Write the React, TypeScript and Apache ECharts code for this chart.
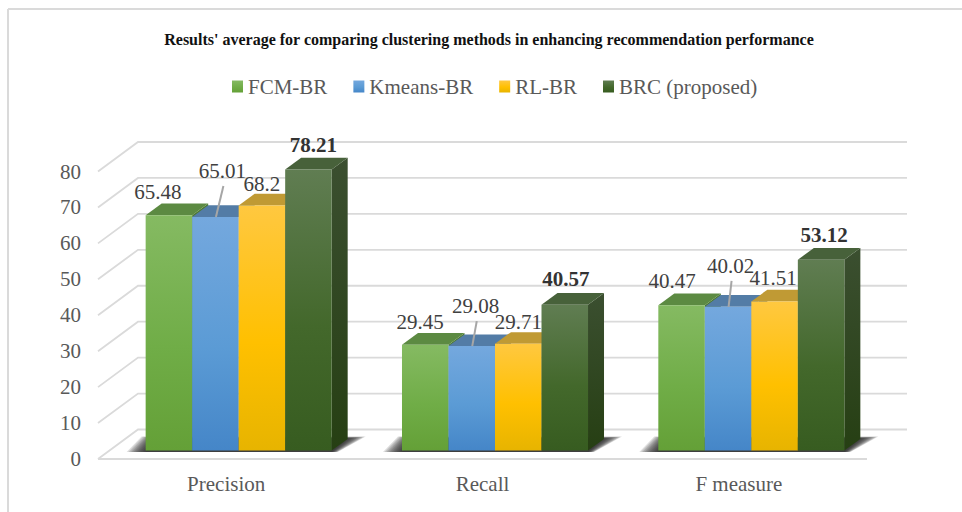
import React, { useEffect, useRef } from "react";
import * as echarts from "echarts";

const categories = ["Precision", "Recall", "F measure"];
const seriesNames = ["FCM-BR", "Kmeans-BR", "RL-BR", "BRC (proposed)"];
const fcmBr = [65.48, 29.45, 40.47];
const kmeansBr = [65.01, 29.08, 40.02];
const rlBr = [68.2, 29.71, 41.51];
const brc = [78.21, 40.57, 53.12];
const yTicks = [0, 10, 20, 30, 40, 50, 60, 70, 80];

const allValues = [fcmBr, kmeansBr, rlBr, brc];

const FONT = '"Liberation Serif", "Times New Roman", serif';

// [front top, front mid, front bottom, top face, side top, side bottom]
const palettes = [
  ["#85BA62", "#70AD47", "#64A037", "#5C8A42", "#4E7A33", "#3F6A25"],
  ["#74A8DE", "#5B9BD5", "#4586C8", "#537CA6", "#44709E", "#38608C"],
  ["#FFC840", "#FFC000", "#E7B400", "#C09A34", "#A08020", "#8A6E10"],
  ["#607D52", "#43682B", "#375C20", "#47613A", "#3B4F30", "#263F13"],
];

// Label placement relative to each bar's top front edge: [series][category] = [dx, dy]
const labelOffsets = [
  [[-11, -23], [-5, -23], [-9.5, -24]],
  [[7, -46], [4, -40], [2.5, -41]],
  [[0, -22], [0, -22], [-1.5, -23]],
  [[5, -25], [1, -26], [3, -25]],
];

const BAR_RATIO = 46.5 / 256.3;
const DEPTH_X = 40;
const DEPTH_Y = 29.5;
const BAR_DX = 12.5;
const BAR_DY = 8.4;
const SIDE_X = 16;
const SIDE_Y = 11.7;
const SHADOW_STEPS = [0, 1, 2, 3, 4, 5, 6, 7, 8, 9, 10, 11];

const grad = (stops: string[]) =>
  new echarts.graphic.LinearGradient(
    0,
    0,
    0,
    1,
    stops.map((c, i) => ({ offset: stops.length === 3 ? [0, 0.56, 1][i] : i / (stops.length - 1), color: c }))
  );

function barRect(api: any, seriesIdx: number, cat: number, value: number) {
  const top = api.coord([cat, value]);
  const base = api.coord([cat, 0]);
  const w = api.size([1, 0])[0] * BAR_RATIO;
  const x = top[0] + BAR_DX + (seriesIdx - 2) * w;
  return { x, w, top: top[1] - BAR_DY, base: base[1] - BAR_DY };
}

function makeBarSeries(seriesIdx: number) {
  const p = palettes[seriesIdx];
  return {
    type: "custom",
    name: seriesNames[seriesIdx],
    coordinateSystem: "cartesian2d",
    z: 5,
    silent: true,
    itemStyle: { color: grad([p[0], p[1], p[2]]) },
    encode: { x: 0, y: 1 },
    data: allValues[seriesIdx].map((v, i) => [i, v]),
    renderItem: (_: any, api: any) => {
      const b = barRect(api, seriesIdx, api.value(0), api.value(1));
      const r = b.x + b.w;
      return {
        type: "group",
        children: [
          {
            type: "polygon",
            shape: { points: [[r, b.top], [r + SIDE_X, b.top - SIDE_Y], [r + SIDE_X, b.base - SIDE_Y], [r, b.base]] },
            style: { fill: grad([p[4], p[5]]) },
          },
          {
            type: "polygon",
            shape: { points: [[b.x, b.top], [b.x + SIDE_X, b.top - SIDE_Y], [r + SIDE_X, b.top - SIDE_Y], [r, b.top]] },
            style: { fill: p[3] },
          },
          {
            type: "rect",
            shape: { x: b.x, y: b.top, width: b.w, height: b.base - b.top },
            style: { fill: grad([p[0], p[1], p[2]]) },
          },
        ],
      };
    },
  };
}

const lineStyle = { stroke: "#DADADA", lineWidth: 1.8, fill: "none" };

export default function App() {
  const ref = useRef<HTMLDivElement>(null);
  useEffect(() => {
    if (!ref.current) return;
    const chart = echarts.init(ref.current, undefined, { renderer: "svg" });
    chart.setOption({
      animation: false,
      backgroundColor: "#FFFFFF",
      title: {
        text: "Results' average for comparing clustering methods in enhancing recommendation performance",
        left: 484,
        top: 26,
        textAlign: "center",
        textStyle: { fontFamily: FONT, fontSize: 16, fontWeight: "bold", color: "#111111" },
      },
      legend: {
        data: seriesNames,
        left: 227,
        top: 71,
        icon: "rect",
        itemWidth: 11,
        itemHeight: 12,
        itemGap: 26,
        selectedMode: false,
        textStyle: { fontFamily: FONT, fontSize: 21, color: "#595959" },
      },
      grid: { left: 98, right: 95, top: 171.5, bottom: 53, containLabel: false },
      xAxis: {
        type: "category",
        data: categories,
        axisLine: { show: false },
        axisTick: { show: false },
        axisLabel: { fontFamily: FONT, fontSize: 21, color: "#595959", margin: 14 },
      },
      yAxis: {
        type: "value",
        min: 0,
        max: 80,
        interval: 10,
        axisLine: { show: false },
        axisTick: { show: false },
        splitLine: { show: false },
        axisLabel: { fontFamily: FONT, fontSize: 21, color: "#595959", margin: 17, padding: [7, 0, 0, 0] },
      },
      graphic: [
        { type: "line", silent: true, shape: { x1: 8, y1: 9, x2: 962, y2: 9 }, style: { stroke: "#DADADA", lineWidth: 2 } },
        { type: "line", silent: true, shape: { x1: 8, y1: 9, x2: 8, y2: 512 }, style: { stroke: "#DADADA", lineWidth: 2 } },
      ],
      series: [
        {
          type: "custom",
          name: "wall",
          coordinateSystem: "cartesian2d",
          z: 1,
          silent: true,
          encode: { x: 0, y: 1 },
          data: yTicks.map((t) => [0, t]),
          renderItem: (params: any, api: any) => {
            const g = params.coordSys;
            const y = api.coord([0, api.value(1)])[1];
            const x0 = g.x;
            const xR = g.x + g.width;
            const children: any[] = [
              {
                type: "polyline",
                shape: { points: [[x0, y], [x0 + DEPTH_X, y - DEPTH_Y], [xR + DEPTH_X, y - DEPTH_Y]] },
                style: lineStyle,
              },
            ];
            if (api.value(1) === 0) {
              children.push({
                type: "line",
                shape: { x1: x0, y1: y, x2: xR, y2: y },
                style: { stroke: "#DADADA", lineWidth: 2.2 },
              });
            }
            return { type: "group", children };
          },
        },
        {
          type: "custom",
          name: "floor shadow",
          coordinateSystem: "cartesian2d",
          z: 2,
          silent: true,
          encode: { x: 0, y: 1 },
          data: categories.map((_, i) => [i, 0]),
          renderItem: (_: any, api: any) => {
            const first = barRect(api, 0, api.value(0), 1);
            const last = barRect(api, 3, api.value(0), 1);
            const b = first.base;
            const l = first.x;
            const r = last.x + last.w;
            // Soft falloff is built from stacked translucent layers, widest first.
            return {
              type: "group",
              children: SHADOW_STEPS.map((i) => {
                const t = i / (SHADOW_STEPS.length - 1);
                return {
                  type: "polygon",
                  shape: {
                    points: [
                      [l - 19 + 19 * t, b + 1.5],
                      [r + 6 - 6 * t, b + 1.5],
                      [r + 34 - 18 * t, b - 14 + 2 * t],
                      [l - 4 + 14 * t, b - 14 + 2 * t],
                    ],
                  },
                  style: { fill: "rgba(35,35,35,0.15)" },
                };
              }),
            };
          },
        },
        ...seriesNames.map((_, i) => makeBarSeries(i)),
        {
          type: "custom",
          name: "labels",
          coordinateSystem: "cartesian2d",
          z: 10,
          silent: true,
          encode: { x: 0, y: 1 },
          data: allValues.flatMap((vals, s) => vals.map((v, c) => [c, v, s])),
          renderItem: (_: any, api: any) => {
            const c = api.value(0);
            const v = api.value(1);
            const s = api.value(2);
            const b = barRect(api, s, c, v);
            const [dx, dy] = labelOffsets[s][c];
            const cx = b.x + b.w / 2;
            const children: any[] = [
              {
                type: "text",
                style: {
                  text: String(v),
                  x: cx + dx,
                  y: b.top + dy,
                  align: "center",
                  verticalAlign: "middle",
                  fontFamily: FONT,
                  fontSize: 21,
                  fontWeight: s === 3 ? "bold" : "normal",
                  fill: s === 3 ? "#333333" : "#404040",
                },
              },
            ];
            if (s === 1) {
              children.push({
                type: "line",
                shape: { x1: cx + dx + 1, y1: b.top + dy + 15, x2: cx + 0.5, y2: b.top },
                style: { stroke: "#A6A6A6", lineWidth: 2 },
              });
            }
            return { type: "group", children };
          },
        },
      ],
    });
    return () => chart.dispose();
  }, []);
  return <div ref={ref} style={{ position: "absolute", left: 0, top: 0, width: 962, height: 512 }} />;
}
